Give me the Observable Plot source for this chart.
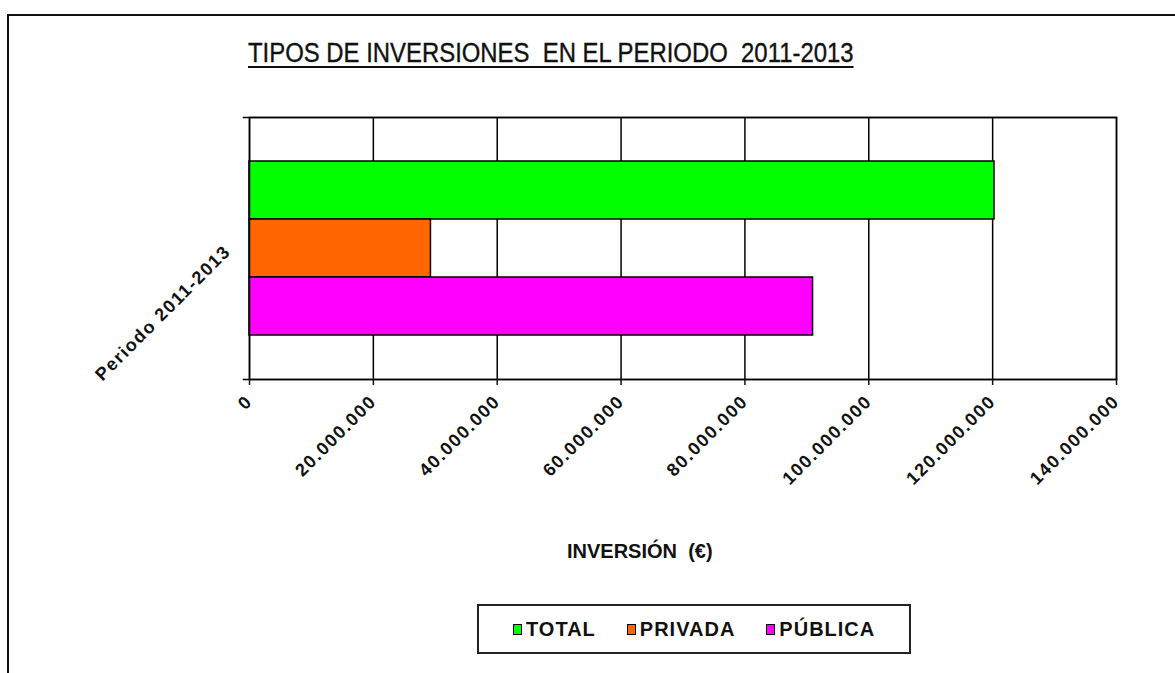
<!DOCTYPE html>
<html>
<head>
<meta charset="utf-8">
<script src="https://cdn.jsdelivr.net/npm/d3@7"></script>
<script src="https://cdn.jsdelivr.net/npm/@observablehq/plot@0.6"></script>
<style>
  html, body { margin: 0; padding: 0; background: #fff; overflow: hidden; }
  #wrap { position: relative; width: 1175px; height: 673px; overflow: hidden; background: #fff; }
  #border { position: absolute; left: 7px; top: 14px; width: 3000px; height: 3000px;
            border-left: 2px solid #111; border-top: 2px solid #111; }
  #chart { position: absolute; left: 0; top: 0; }
  #title { position: absolute; left: 248px; top: 38px; font-family: "Liberation Sans", Arial, sans-serif;
           font-size: 27px; color: #111; text-decoration: underline; text-decoration-thickness: 2px; text-underline-offset: 4px;
           white-space: pre; transform: scaleX(0.885); transform-origin: left top; -webkit-text-stroke: 0.35px #111; }
  #xlabel { position: absolute; left: 567px; top: 540px; font-family: "Liberation Sans", Arial, sans-serif;
            font-weight: bold; font-size: 20px; white-space: pre; color: #111; }
  #legend { position: absolute; left: 477px; top: 604px; width: 434px; height: 50px; border: 2px solid #222; box-sizing: border-box;
            display: flex; align-items: center; justify-content: flex-start; padding-left: 34px; gap: 31px;
            font-family: "Liberation Sans", Arial, sans-serif; font-weight: bold; font-size: 20px; letter-spacing: 1px; color: #111; }
  #legend .item { display: flex; align-items: center; gap: 4px; }
  #legend .sw { width: 7px; height: 9px; border: 1.5px solid #000; }
  g[aria-label="x-axis tick label"] text { letter-spacing: 1.6px; }
  g[aria-label="fy-axis tick label"] text { letter-spacing: 1.5px; }
</style>
</head>
<body>
<div id="wrap">
  <div id="border"></div>
  <div id="chart"></div>
  <div id="title">TIPOS DE INVERSIONES  EN EL PERIODO  2011-2013</div>
  <div id="xlabel">INVERSIÓN  (€)</div>
  <div id="legend"></div>
</div>
<script>
const periods = ["Periodo 2011-2013"];
const series = ["TOTAL", "PRIVADA", "PÚBLICA"];
const values = [120300000, 29300000, 91000000];
const colors = ["#00ff00", "#ff6600", "#ff00ff"];
const xTicks = [0, 20000000, 40000000, 60000000, 80000000, 100000000, 120000000, 140000000];

const data = series.map((s, i) => ({period: periods[0], serie: s, value: values[i]}));
const esFormat = d3.formatLocale({decimal: ",", thousands: ".", grouping: [3], currency: ["", " €"]}).format(",.0f");

const chart = Plot.plot({
  width: 1175,
  height: 673,
  marginLeft: 249,
  marginRight: 59,
  marginTop: 117,
  marginBottom: 294,
  style: {fontFamily: "'Liberation Sans', Arial, sans-serif", background: "transparent", color: "#111"},
  x: {domain: [0, 140000000]},
  y: {domain: series, paddingInner: 0, paddingOuter: 0.75, axis: null},
  fy: {domain: periods, padding: 0},
  color: {domain: series, range: colors},
  marks: [
    Plot.gridX(xTicks, {stroke: "#000", strokeOpacity: 1, strokeWidth: 1.5}),
    Plot.barX(data, {x: "value", y: "serie", fy: "period", fill: "serie", stroke: "#000", strokeWidth: 1.5}),
    Plot.frame({stroke: "#000", strokeWidth: 1.5}),
    Plot.frame({anchor: "top", insetLeft: -6, stroke: "#000", strokeWidth: 1.5}),
    Plot.frame({anchor: "bottom", insetLeft: -6, stroke: "#000", strokeWidth: 1.5}),
    Plot.axisX(xTicks, {tickFormat: esFormat, tickRotate: -45, tickSize: 6, tickPadding: 13, fontSize: 18, fontWeight: "bold", label: null, strokeWidth: 1.5}),
    Plot.axisFy({anchor: "left", tickRotate: -45, tickSize: 0, tickPadding: 22, fontSize: 18, fontWeight: "bold", label: null})
  ]
});
document.getElementById("chart").appendChild(chart);

const legend = document.getElementById("legend");
series.forEach((s, i) => {
  const item = document.createElement("div");
  item.className = "item";
  const sw = document.createElement("div");
  sw.className = "sw";
  sw.style.background = colors[i];
  const t = document.createElement("span");
  t.textContent = s;
  item.appendChild(sw);
  item.appendChild(t);
  legend.appendChild(item);
});
</script>
</body>
</html>
